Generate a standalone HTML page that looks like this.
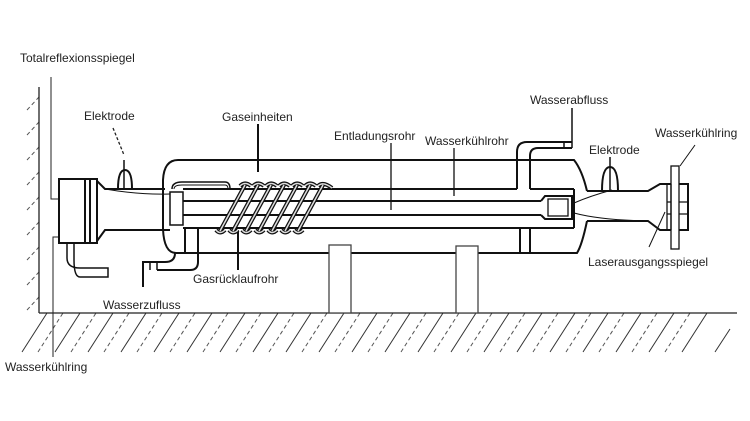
<!DOCTYPE html>
<html><head><meta charset="utf-8"><style>
html,body{margin:0;padding:0;background:#fff;}
svg{display:block;}
text{font-family:"Liberation Sans",Arial,sans-serif;font-size:12px;fill:#222;}
</style></head><body>
<svg width="750" height="421" viewBox="0 0 750 421" xmlns="http://www.w3.org/2000/svg">
<rect width="750" height="421" fill="#fff"/>
<g stroke="#333" stroke-width="1" fill="none">
  <!-- floor hatch -->
  <g id="h">
  </g>
</g>
<g stroke="#333" stroke-width="1">
<line x1="22" y1="352" x2="47" y2="313"/><line x1="55" y1="352" x2="80" y2="313"/><line x1="88" y1="352" x2="113" y2="313"/><line x1="121" y1="352" x2="146" y2="313"/><line x1="154" y1="352" x2="179" y2="313"/><line x1="187" y1="352" x2="212" y2="313"/><line x1="220" y1="352" x2="245" y2="313"/><line x1="253" y1="352" x2="278" y2="313"/><line x1="286" y1="352" x2="311" y2="313"/><line x1="319" y1="352" x2="344" y2="313"/><line x1="352" y1="352" x2="377" y2="313"/><line x1="385" y1="352" x2="410" y2="313"/><line x1="418" y1="352" x2="443" y2="313"/><line x1="451" y1="352" x2="476" y2="313"/><line x1="484" y1="352" x2="509" y2="313"/><line x1="517" y1="352" x2="542" y2="313"/><line x1="550" y1="352" x2="575" y2="313"/><line x1="583" y1="352" x2="608" y2="313"/><line x1="616" y1="352" x2="641" y2="313"/><line x1="649" y1="352" x2="674" y2="313"/><line x1="682" y1="352" x2="707" y2="313"/><line x1="715" y1="352" x2="730" y2="329"/>
</g>
<g stroke="#555" stroke-width="1" stroke-dasharray="4,3">
<line x1="38" y1="352" x2="63" y2="313"/><line x1="71" y1="352" x2="96" y2="313"/><line x1="104" y1="352" x2="129" y2="313"/><line x1="137" y1="352" x2="162" y2="313"/><line x1="170" y1="352" x2="195" y2="313"/><line x1="203" y1="352" x2="228" y2="313"/><line x1="236" y1="352" x2="261" y2="313"/><line x1="269" y1="352" x2="294" y2="313"/><line x1="302" y1="352" x2="327" y2="313"/><line x1="335" y1="352" x2="360" y2="313"/><line x1="368" y1="352" x2="393" y2="313"/><line x1="401" y1="352" x2="426" y2="313"/><line x1="434" y1="352" x2="459" y2="313"/><line x1="467" y1="352" x2="492" y2="313"/><line x1="500" y1="352" x2="525" y2="313"/><line x1="533" y1="352" x2="558" y2="313"/><line x1="566" y1="352" x2="591" y2="313"/><line x1="599" y1="352" x2="624" y2="313"/><line x1="632" y1="352" x2="657" y2="313"/><line x1="665" y1="352" x2="690" y2="313"/>
<!-- wall hatch -->
<line x1="27" y1="110" x2="39" y2="97"/><line x1="27" y1="135" x2="39" y2="122"/><line x1="27" y1="160" x2="39" y2="147"/><line x1="27" y1="185" x2="39" y2="172"/><line x1="27" y1="210" x2="39" y2="197"/><line x1="27" y1="235" x2="39" y2="222"/><line x1="27" y1="260" x2="39" y2="247"/><line x1="27" y1="285" x2="39" y2="272"/><line x1="27" y1="310" x2="39" y2="297"/>
</g>
<g stroke="#222" stroke-width="1.3" fill="none">
  <!-- wall + floor -->
  <line x1="39" y1="87" x2="39" y2="313"/>
  <line x1="39" y1="313" x2="737" y2="313"/>
  <!-- leaders left -->
  <polyline points="51,77 51,199 93,199" stroke-width="1"/>
  <polyline points="53,357 53,237 68,237" stroke-width="1"/>
</g>
<g stroke="#111" stroke-width="2" fill="none">
  <!-- left mirror -->
  <rect x="59" y="179" width="26" height="64" fill="#fff"/>
  <rect x="85" y="179" width="12" height="64" fill="#fff"/>
  <line x1="90" y1="179" x2="90" y2="243"/>
  <polyline points="97,179 97,181 105,189 165,189"/>
  <polyline points="97,243 97,241 105,230 170,230"/>
  <path d="M105,189 Q140,195 170,194" stroke-width="1"/>
  <!-- left water pipe -->
  <path d="M67,243 L67,258 Q67,268 80,268 L108,268 L108,277 L80,277 Q74,277 74,260 L74,243" stroke-width="1.5"/>
  <!-- outer body -->
  <path d="M178,160 L574,160 Q582,170 587,191"/>
  <path d="M178,160 Q164,160 163,180 L163,229"/>
  <path d="M163,229 Q164,253 176,253 L577,253 Q582,245 587,221"/>
  <!-- inner lines -->
  <line x1="183" y1="189" x2="517" y2="189"/>
  <line x1="530" y1="189" x2="574" y2="189"/>
  <line x1="183" y1="201" x2="541" y2="201"/>
  <line x1="183" y1="215" x2="541" y2="215"/>
  <line x1="183" y1="228" x2="574" y2="228"/>
  <line x1="574" y1="189" x2="574" y2="228"/>
  <path d="M541,201 L545,196 L572,196 L572,219 L545,219 L541,215" />
  <rect x="548" y="199" width="20" height="17" stroke-width="1.3"/>
  <!-- left inner box -->
  <rect x="170" y="192" width="13" height="33" fill="#fff" stroke-width="1.5"/>
  <path d="M172,189 Q172,182 182,182 L225,182 Q230,182 230,189" stroke-width="1.5"/>
  <path d="M174,189 Q174,185 182,185 L225,185 Q228,185 228,189" stroke-width="1"/>
  <!-- left bottom pipe -->
  <line x1="185" y1="228" x2="185" y2="253"/>
  <path d="M198,228 L198,262 Q198,270 190,270 L157,270"/>
  <path d="M175,253 Q175,262 165,262 L143,262 L143,287"/>
  <line x1="150" y1="262" x2="150" y2="270" stroke-width="1.5"/>
  <line x1="157" y1="262" x2="157" y2="270" stroke-width="1.5"/>
  <line x1="143" y1="262" x2="143" y2="270"/>
  <!-- Wasserabfluss pipe -->
  <path d="M517,189 L517,152 Q517,142 527,142 L572,142"/>
  <path d="M530,189 L530,156 Q530,148 538,148 L572,148"/>
  <line x1="564" y1="142" x2="564" y2="148" stroke-width="1.5"/>
  <line x1="572" y1="108" x2="572" y2="148" stroke-width="1.5"/>
  <!-- bottom right small pipe -->
  <line x1="520" y1="229" x2="520" y2="253"/>
  <line x1="530" y1="229" x2="530" y2="253"/>
  <!-- right output -->
  <path d="M587,191 L648,191 L660,184 L688,184 L688,230 L660,230 L648,221 L587,221"/>
  <path d="M574,203 Q590,196 612,190" stroke-width="1"/>
  <path d="M574,213 Q600,220 648,221" stroke-width="1"/>
  <line x1="667" y1="184" x2="667" y2="230" stroke-width="1.3"/>
  <line x1="667" y1="202" x2="688" y2="202" stroke-width="1.3"/>
  <line x1="667" y1="214" x2="688" y2="214" stroke-width="1.3"/>
  <rect x="671" y="166" width="8" height="83" fill="#fff" stroke-width="1.3"/>
  <line x1="671" y1="184" x2="671" y2="230" stroke-width="1.3"/>
  <!-- electrodes -->
  <path d="M118,189 Q118,170 125,170 Q132,170 132,189"/>
  <line x1="124" y1="160" x2="124" y2="189" stroke-width="1.5"/>
  <path d="M602,191 Q602,167 610,167 Q618,167 618,191"/>
  <line x1="610" y1="157" x2="610" y2="191" stroke-width="1.5"/>
  <!-- supports -->
  <rect x="329" y="245" width="22" height="68" fill="#fff" stroke="#444" stroke-width="1.3"/>
  <rect x="456" y="246" width="22" height="67" fill="#fff" stroke="#444" stroke-width="1.3"/>
  <!-- leaders -->
  <line x1="258" y1="124" x2="258" y2="172"/>
  <line x1="391" y1="143" x2="391" y2="210" stroke-width="1.3"/>
  <line x1="454" y1="148" x2="454" y2="196" stroke-width="1.3"/>
  <line x1="238" y1="230" x2="238" y2="270"/>
  <line x1="695" y1="145" x2="680" y2="166" stroke-width="1"/>
  <line x1="649" y1="247" x2="665" y2="212" stroke-width="1"/>
</g>
<line x1="113" y1="128" x2="124" y2="155" stroke="#222" stroke-width="1.3" stroke-dasharray="3,2"/>
<!-- coil -->
<g fill="none" stroke="#111">
  <g stroke-width="4"><path d="M220,231 L245,185 M233,231 L258,185 M246,231 L271,185 M259,231 L284,185 M272,231 L297,185 M285,231 L310,185 M298,231 L323,185 M240,186 Q245,181 251,186 M253,186 Q258,181 264,186 M266,186 Q271,181 277,186 M279,186 Q284,181 290,186 M292,186 Q297,181 303,186 M305,186 Q310,181 316,186 M318,186 Q323,181 332,188 M216,230 Q220,235 225,230 M229,230 Q233,235 238,230 M242,230 Q246,235 251,230 M255,230 Q259,235 264,230 M268,230 Q272,235 277,230 M281,230 Q285,235 290,230 M294,230 Q298,235 303,230"/></g>
  <g stroke="#ddd" stroke-width="1.5"><path d="M220,231 L245,185 M233,231 L258,185 M246,231 L271,185 M259,231 L284,185 M272,231 L297,185 M285,231 L310,185 M298,231 L323,185 M240,186 Q245,181 251,186 M253,186 Q258,181 264,186 M266,186 Q271,181 277,186 M279,186 Q284,181 290,186 M292,186 Q297,181 303,186 M305,186 Q310,181 316,186 M318,186 Q323,181 332,188 M216,230 Q220,235 225,230 M229,230 Q233,235 238,230 M242,230 Q246,235 251,230 M255,230 Q259,235 264,230 M268,230 Q272,235 277,230 M281,230 Q285,235 290,230 M294,230 Q298,235 303,230"/></g>
</g>
<!-- labels -->
<text x="20" y="62">Totalreflexionsspiegel</text>
<text x="84" y="120">Elektrode</text>
<text x="222" y="121">Gaseinheiten</text>
<text x="334" y="140">Entladungsrohr</text>
<text x="425" y="145">Wasserkühlrohr</text>
<text x="530" y="104">Wasserabfluss</text>
<text x="655" y="137">Wasserkühlring</text>
<text x="589" y="154">Elektrode</text>
<text x="588" y="266">Laserausgangsspiegel</text>
<text x="193" y="283">Gasrücklaufrohr</text>
<text x="103" y="309">Wasserzufluss</text>
<text x="5" y="371">Wasserkühlring</text>
</svg>
</body></html>
